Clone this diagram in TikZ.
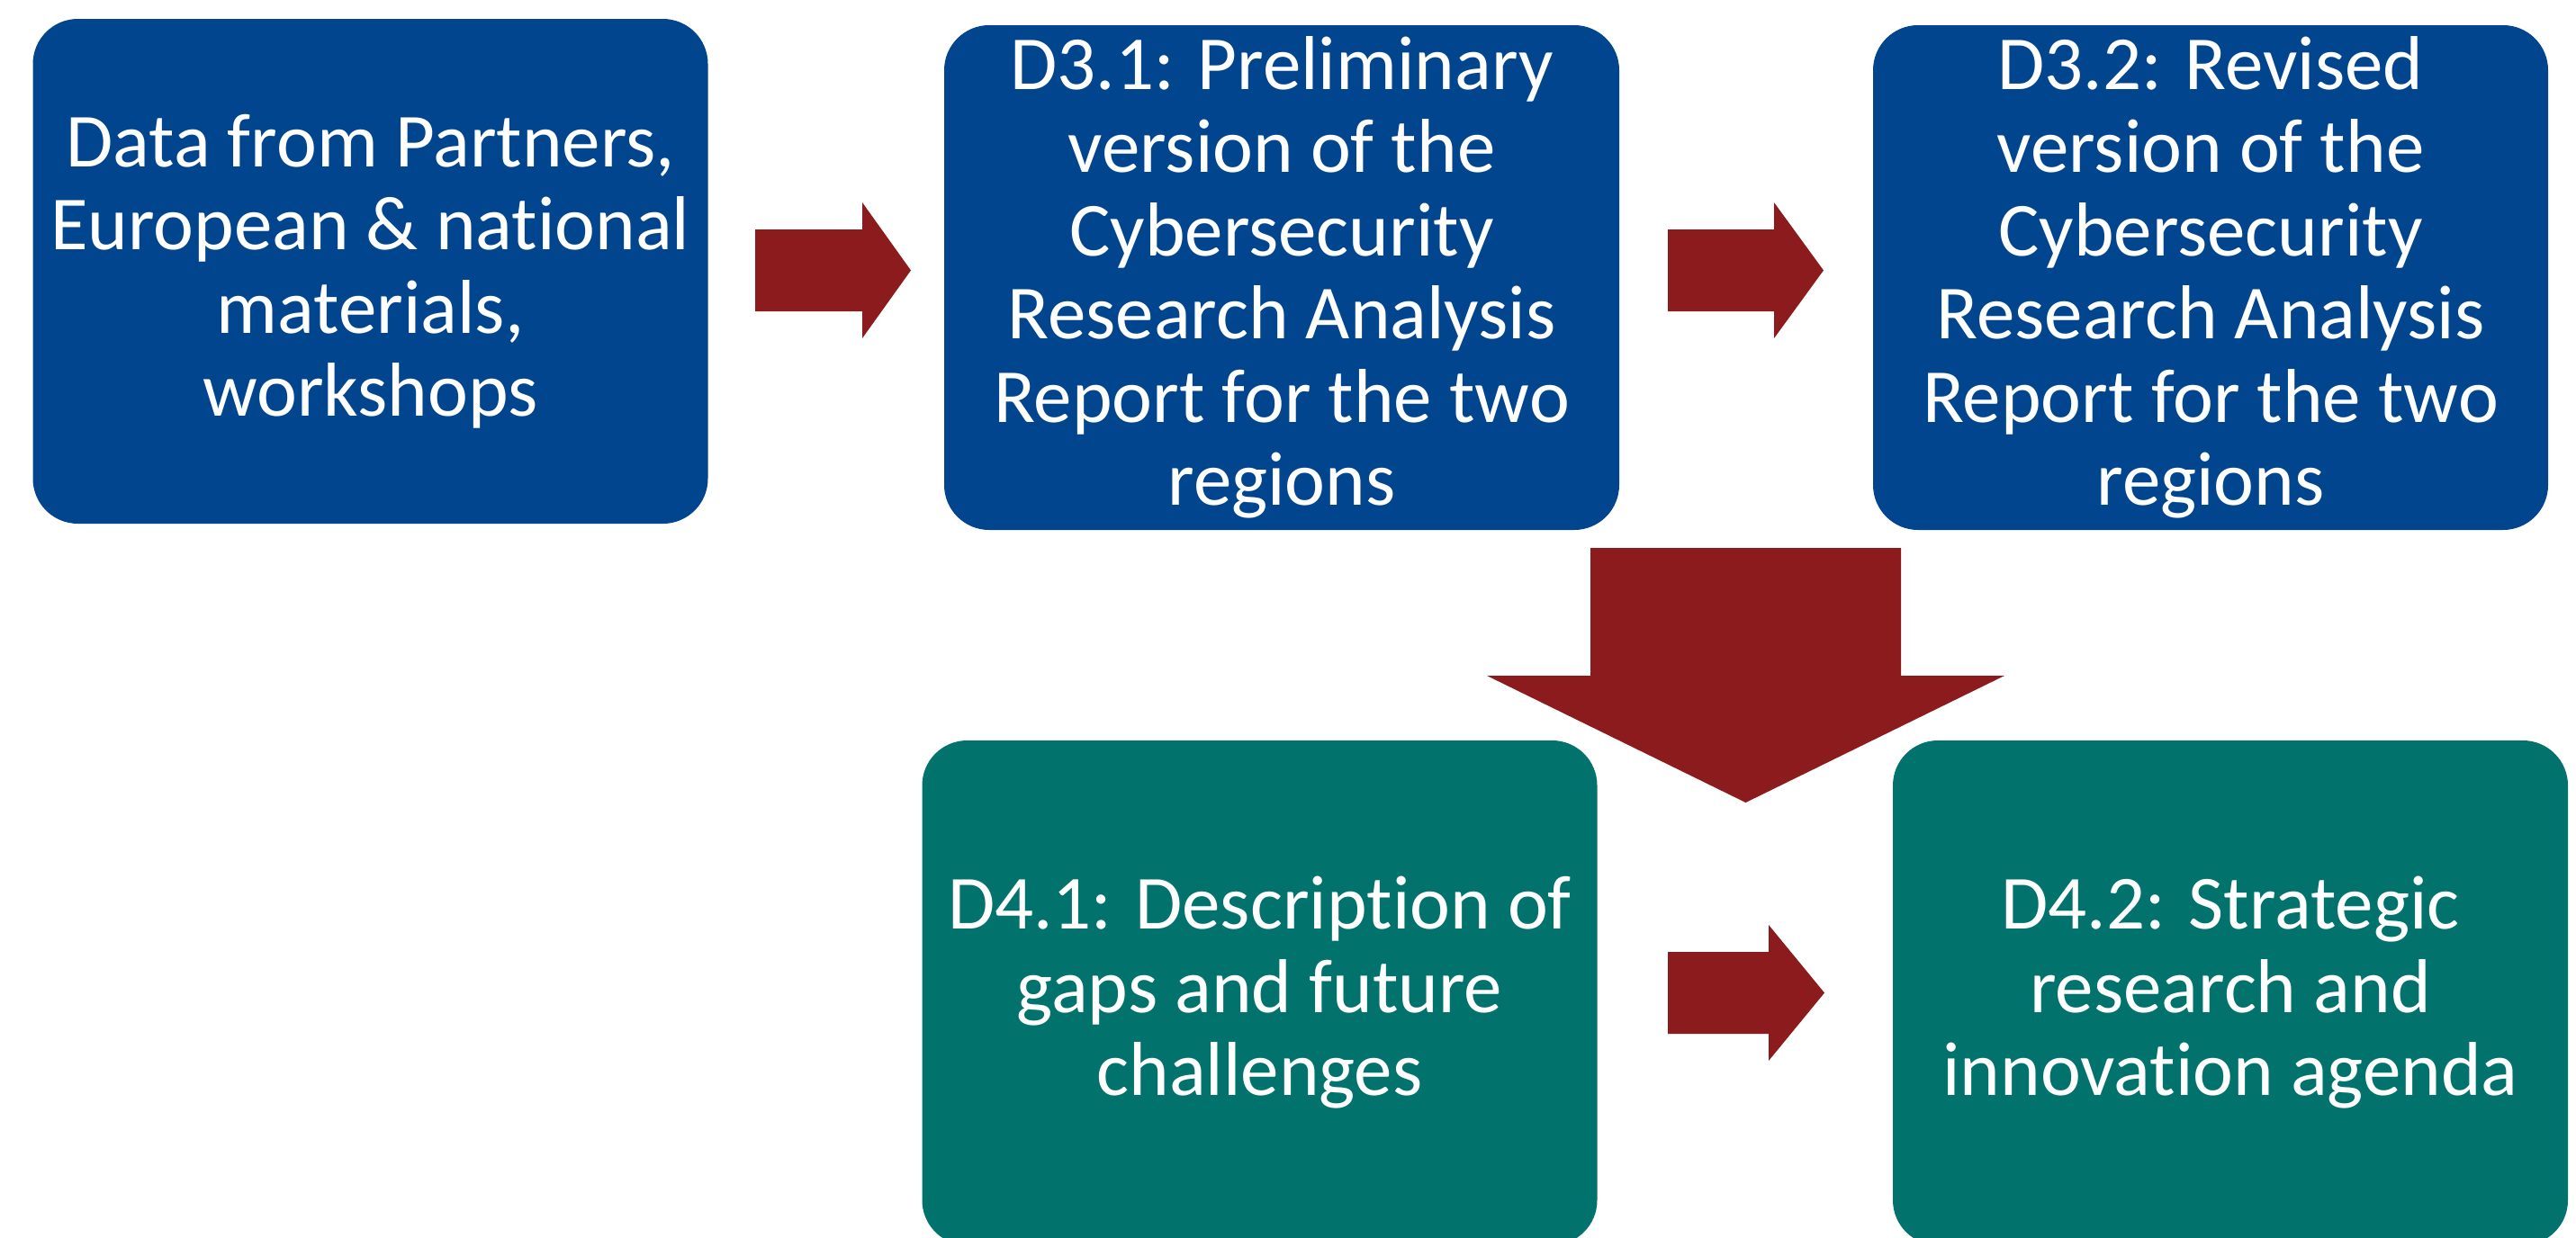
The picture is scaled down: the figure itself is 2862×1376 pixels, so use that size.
\documentclass[tikz,border=0pt]{standalone}
\usepackage{fontspec}
\setmainfont{Carlito}[Ligatures=NoCommon]
\definecolor{boxblue}{RGB}{0,69,142}
\definecolor{boxteal}{RGB}{2,115,108}
\definecolor{arrred}{RGB}{139,27,29}
\begin{document}
\begin{tikzpicture}[x=1pt,y=-1pt,
  box/.style={rounded corners=50pt, inner sep=0pt, text=white, align=center,
    font=\fontsize{85}{92.5}\selectfont, minimum width=750pt, minimum height=561pt},
  bluebox/.style={box, fill=boxblue},
  tealbox/.style={box, fill=boxteal},
  blockarrow/.style={fill=arrred}]
\useasboundingbox (0,0) rectangle (2862,1376);
\clip (0,0) rectangle (2862,1376);
\node[bluebox] (b1) at (411.5,301.5) {Data from Partners,\\European \& national\\materials,\\workshops};
\node[bluebox] (b2) at (1424,308.5) {D3.1: Preliminary\\version of the\\Cybersecurity\\Research Analysis\\Report for the two\\regions};
\node[bluebox] (b3) at (2456,308.5) {D3.2: Revised\\version of the\\Cybersecurity\\Research Analysis\\Report for the two\\regions};
\node[tealbox] (b4) at (1399.5,1103.5) {D4.1: Description of\\gaps and future\\challenges};
\node[tealbox] (b5) at (2478,1103.5) {D4.2: Strategic\\research and\\innovation agenda};
% right arrows
\coordinate (a1) at (839,300.5);
\fill[blockarrow] (a1) ++(0,-45.5) -- ++(119,0) -- ++(0,-30) -- ++(54,75.5) -- ++(-54,75.5) -- ++(0,-30) -- ++(-119,0) -- cycle;
\coordinate (a2) at (1853,300.5);
\fill[blockarrow] (a2) ++(0,-45.5) -- ++(118,0) -- ++(0,-30) -- ++(55,75.5) -- ++(-55,75.5) -- ++(0,-30) -- ++(-118,0) -- cycle;
\coordinate (a3) at (1853,1103.5);
\fill[blockarrow] (a3) ++(0,-45.5) -- ++(112,0) -- ++(0,-30) -- ++(62,75.5) -- ++(-62,75.5) -- ++(0,-30) -- ++(-112,0) -- cycle;
% down arrow
\coordinate (a4) at (1939.5,609);
\fill[blockarrow] (a4) ++(-172.5,0) -- ++(345,0) -- ++(0,142) -- ++(115,0) -- (1939.5,892) -- (1652,751) -- (1767,751) -- cycle;
\end{tikzpicture}
\end{document}
